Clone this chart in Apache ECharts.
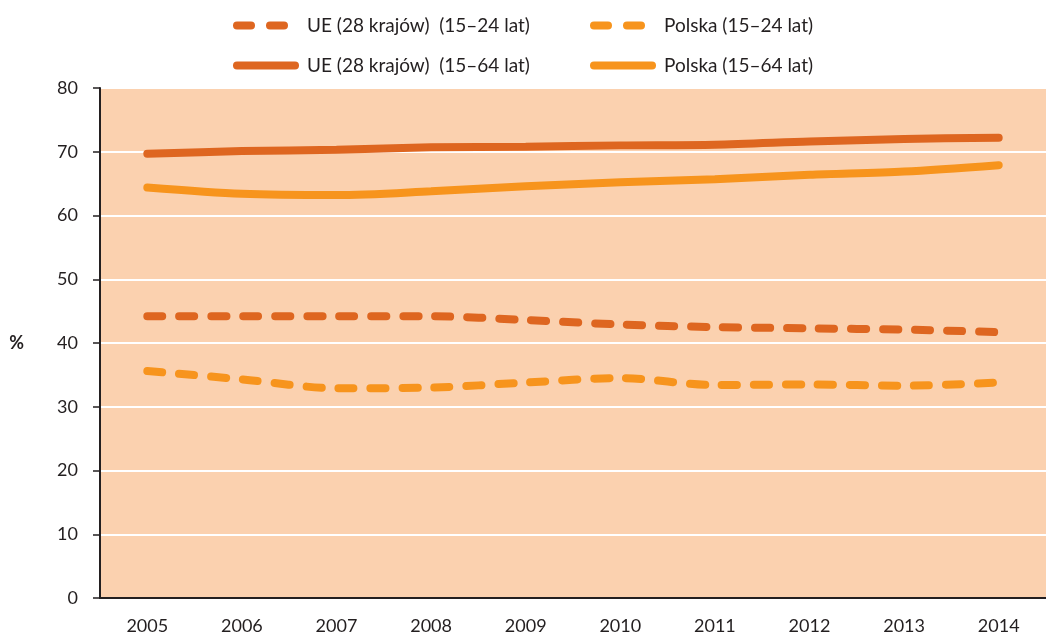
<!DOCTYPE html>
<html><head><meta charset="utf-8">
<script src="https://cdn.jsdelivr.net/npm/echarts@6/dist/echarts.min.js"></script>
<style>html,body{margin:0;padding:0;background:#fff}#c{width:1046px;height:637px}</style>
</head><body><div id="c"></div>
<script>
const years = ['2005','2006','2007','2008','2009','2010','2011','2012','2013','2014'];
const ue1524 = [44.2, 44.2, 44.2, 44.2, 43.6, 42.9, 42.5, 42.3, 42.1, 41.7];
const pl1524 = [35.6, 34.3, 32.9, 33.0, 33.8, 34.5, 33.4, 33.5, 33.3, 33.8];
const ue1564 = [69.7, 70.1, 70.3, 70.7, 70.8, 71.0, 71.1, 71.6, 72.0, 72.2];
const pl1564 = [64.4, 63.4, 63.2, 63.8, 64.6, 65.2, 65.7, 66.4, 66.9, 67.9];
const names = ['UE (28 krajów)  (15–24 lat)', 'Polska (15–24 lat)', 'UE (28 krajów)  (15–64 lat)', 'Polska (15–64 lat)'];
const yTicks = [0,10,20,30,40,50,60,70,80];

const dark = '#DE6620', light = '#F7941D';
const font = 'Lato, "Open Sans", sans-serif';
const dashIcon = 'path://M4,0 L18,0 A4,4 0 0 1 18,8 L4,8 A4,4 0 0 1 4,0 Z M37,0 L51,0 A4,4 0 0 1 51,8 L37,8 A4,4 0 0 1 37,0 Z';
const solidIcon = 'path://M4,0 L62,0 A4,4 0 0 1 62,8 L4,8 A4,4 0 0 1 4,0 Z';
const chart = echarts.init(document.getElementById('c'));
function mkLegend(name, left, top, dashed, color) {
  return {
    data: [{name: name, icon: dashed ? dashIcon : solidIcon, itemStyle: {color: color, borderWidth: 0}}],
    left: left, top: top, itemWidth: dashed ? 55 : 66, itemHeight: 9, itemGap: 0,
    textStyle: {fontFamily: font, fontSize: 19, color: '#231F20', padding: [0, 0, 0, dashed ? 14 : 3]},
    selectedMode: false
  };
}
const dash = [15, 17];
chart.setOption({
  animation: false,
  legend: [
    mkLegend(names[0], 228, 11, true, dark),
    mkLegend(names[1], 585, 11, true, light),
    mkLegend(names[2], 228, 51, false, dark),
    mkLegend(names[3], 585, 51, false, light)
  ],
  grid: {left: 100, top: 88, bottom: 39, right: -11, show: true, backgroundColor: '#FBD1AF', borderWidth: 0},
  xAxis: {
    type: 'category', data: years, boundaryGap: true,
    axisLine: {lineStyle: {color: '#231F20', width: 2}},
    axisTick: {length: 7, lineStyle: {color: '#231F20', width: 1.5}},
    axisLabel: {fontFamily: font, fontSize: 18, color: '#231F20', margin: 19}
  },
  yAxis: {
    type: 'value', min: 0, max: 80, interval: 10,
    name: '%', nameLocation: 'middle', nameRotate: 0, nameGap: 76,
    nameTextStyle: {fontFamily: font, fontSize: 18, fontWeight: 'bold', color: '#231F20'},
    axisLine: {show: true, lineStyle: {color: '#231F20', width: 2}},
    axisTick: {show: true, length: 7, lineStyle: {color: '#231F20', width: 1.5}},
    splitLine: {lineStyle: {color: '#ffffff', width: 2}},
    axisLabel: {fontFamily: font, fontSize: 18, color: '#231F20', margin: 22,
      formatter: v => yTicks.includes(v) ? String(v) : ''}
  },
  series: [
    {name: names[0], type: 'line', data: ue1524, smooth: 0.3, symbol: 'none', color: dark,
     lineStyle: {color: dark, width: 8, type: dash, cap: 'round'}},
    {name: names[1], type: 'line', data: pl1524, smooth: 0.3, symbol: 'none', color: light,
     lineStyle: {color: light, width: 8, type: dash, cap: 'round'}},
    {name: names[2], type: 'line', data: ue1564, smooth: 0.3, symbol: 'none', color: dark,
     lineStyle: {color: dark, width: 8, cap: 'round'}},
    {name: names[3], type: 'line', data: pl1564, smooth: 0.3, symbol: 'none', color: light,
     lineStyle: {color: light, width: 8, cap: 'round'}}
  ]
});
</script></body></html>
